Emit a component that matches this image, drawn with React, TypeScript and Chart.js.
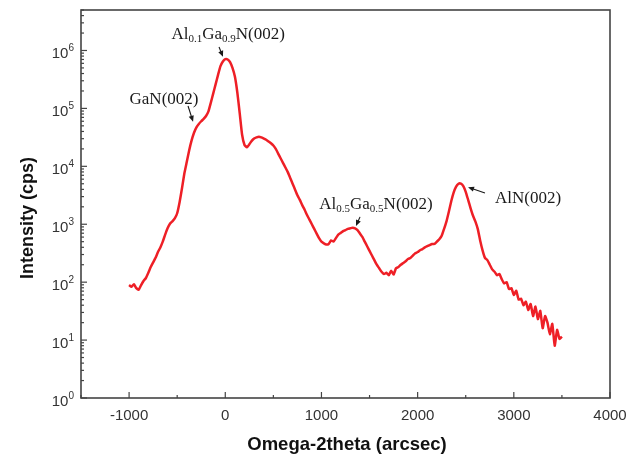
import React, { useEffect, useRef } from 'react';
import { Chart, registerables } from 'chart.js';

Chart.register(...registerables);

// Omega-2theta (arcsec)
const omega2theta = [
  -1000, -975, -950, -925, -900, -875, -850, -825, -800, -775, -750, -725, -700, -675, -650, -625, -600, -575, -550, -525,
  -500, -475, -450, -425, -400, -375, -350, -325, -300, -275, -250, -225, -200, -175, -150, -125, -100, -75, -50, -25,
  0, 25, 50, 75, 100, 125, 150, 175, 200, 225, 250, 275, 300, 325, 350, 375, 400, 425, 450, 475,
  500, 525, 550, 575, 600, 625, 650, 675, 700, 725, 750, 775, 800, 825, 850, 875, 900, 925, 950, 975,
  1000, 1025, 1050, 1075, 1100, 1125, 1150, 1175, 1200, 1225, 1250, 1275, 1300, 1325, 1350, 1375, 1400, 1425, 1450, 1475,
  1500, 1525, 1550, 1575, 1600, 1625, 1650, 1675, 1700, 1725, 1750, 1775, 1800, 1825, 1850, 1875, 1900, 1925, 1950, 1975,
  2000, 2025, 2050, 2075, 2100, 2125, 2150, 2175, 2200, 2225, 2250, 2275, 2300, 2325, 2350, 2375, 2400, 2425, 2450, 2475,
  2500, 2525, 2550, 2575, 2600, 2625, 2650, 2675, 2700, 2725, 2750, 2775, 2800, 2825, 2850, 2875, 2900, 2925, 2950, 2975,
  3000, 3025, 3050, 3075, 3100, 3125, 3150, 3175, 3200, 3225, 3250, 3275, 3300, 3325, 3350, 3375, 3400, 3425, 3450, 3475,
  3500,
];

// Intensity (cps)
const intensity = [
  89, 83, 92, 79, 74, 89, 105, 118, 145, 182, 219, 263, 331, 398, 501, 661, 851, 1023, 1122, 1259,
  1549, 2399, 4169, 7586, 12000, 19000, 28000, 38000, 47000, 54000, 60000, 66000, 74000, 89000, 126000, 182000, 263000, 380000, 537000, 646000,
  708000, 700000, 631000, 501000, 355000, 190000, 83000, 35000, 23400, 21400, 24000, 27500, 30200, 31600, 32400, 31600, 30200, 28800, 26900, 25100,
  22900, 20000, 16600, 13800, 11500, 9550, 7940, 6310, 5010, 3980, 3160, 2630, 2140, 1780, 1445, 1200, 1000, 830, 690, 575,
  500, 468, 447, 457, 525, 501, 575, 661, 708, 759, 794, 832, 851, 871, 851, 794, 692, 603, 501, 417,
  347, 288, 240, 200, 174, 151, 138, 145, 132, 158, 135, 174, 182, 200, 214, 229, 251, 262, 288, 316,
  331, 355, 372, 398, 417, 437, 457, 457, 501, 550, 631, 832, 1122, 1660, 2512, 3548, 4467, 5012, 5012, 4571,
  3631, 2630, 1905, 1413, 1122, 832, 525, 355, 263, 240, 200, 166, 151, 132, 138, 112, 95, 100, 76, 79,
  60, 71, 50, 52, 40, 46, 33, 42, 26, 38, 23, 32, 16, 26, 20, 12.6, 19, 8, 15, 10.5,
  11.5,
];

const xMajorTicks = [-1000, 0, 1000, 2000, 3000, 4000];
const xMinorTicks = [-1500, -500, 500, 1500, 2500, 3500];
const yDecadeExponents = [0, 1, 2, 3, 4, 5, 6];
const yMinorMultipliers = [2, 3, 4, 5, 6, 7, 8, 9];

const xTitle = 'Omega-2theta (arcsec)';
const yTitle = 'Intensity (cps)';

type Part = [string, boolean];
const peakLabels: { parts: Part[]; tx: number; ty: number; from: [number, number]; to: [number, number] }[] = [
  { parts: [['Al', false], ['0.1', true], ['Ga', false], ['0.9', true], ['N(002)', false]], tx: 30, ty: 2.0e6, from: [-65, 1.15e6], to: [-24, 7.8e5] },
  { parts: [['GaN(002)', false]], tx: -637, ty: 1.5e5, from: [-387, 1.1e5], to: [-335, 5.9e4] },
  { parts: [['Al', false], ['0.5', true], ['Ga', false], ['0.5', true], ['N(002)', false]], tx: 1567, ty: 2340, from: [1401, 1340], to: [1359, 930] },
  { parts: [['AlN(002)', false]], tx: 3148, ty: 2950, from: [2700, 3470], to: [2524, 4370] },
];

const SANS = '"Liberation Sans", Arial, sans-serif';
const SERIF = '"Liberation Serif", "Times New Roman", serif';

const decorPlugin = {
  id: 'decor',
  afterDraw(chart: any) {
    const { ctx, chartArea: a } = chart;
    const x = chart.scales.x;
    const y = chart.scales.y;
    ctx.save();

    // ticks (inward)
    ctx.strokeStyle = '#444';
    ctx.lineWidth = 1.2;
    const seg = (x1: number, y1: number, x2: number, y2: number) => {
      ctx.beginPath();
      ctx.moveTo(x1, y1);
      ctx.lineTo(x2, y2);
      ctx.stroke();
    };
    for (const v of xMajorTicks) {
      const px = x.getPixelForValue(v);
      seg(px, a.bottom, px, a.bottom - 6);
    }
    for (const v of xMinorTicks) {
      const px = x.getPixelForValue(v);
      seg(px, a.bottom, px, a.bottom - 3);
    }
    for (const e of yDecadeExponents) {
      const base = Math.pow(10, e);
      const py = y.getPixelForValue(base);
      seg(a.left, py, a.left + 6, py);
      for (const k of yMinorMultipliers) {
        const v = k * base;
        if (v > y.max) break;
        const pm = y.getPixelForValue(v);
        seg(a.left, pm, a.left + 3, pm);
      }
    }

    // frame
    ctx.strokeStyle = '#444';
    ctx.lineWidth = 1.6;
    ctx.strokeRect(a.left, a.top, a.right - a.left, a.bottom - a.top);

    // y tick labels 10^n
    ctx.fillStyle = '#333';
    ctx.textBaseline = 'alphabetic';
    for (const e of yDecadeExponents) {
      const py = y.getPixelForValue(Math.pow(10, e));
      ctx.font = `10px ${SANS}`;
      const sup = String(e);
      const sw = ctx.measureText(sup).width;
      ctx.font = `15px ${SANS}`;
      const tw = ctx.measureText('10').width;
      const right = a.left - 7;
      ctx.textAlign = 'left';
      ctx.fillText('10', right - sw - tw, py + 7.5);
      ctx.font = `10px ${SANS}`;
      ctx.fillText(sup, right - sw, py + 0.5);
    }

    // axis titles
    ctx.fillStyle = '#111';
    ctx.font = `bold 18.5px ${SANS}`;
    ctx.textAlign = 'center';
    ctx.textBaseline = 'middle';
    ctx.fillText(xTitle, 347, 445);
    ctx.font = `bold 18px ${SANS}`;
    ctx.save();
    ctx.translate(28, 218);
    ctx.rotate(-Math.PI / 2);
    ctx.fillText(yTitle, 0, 0);
    ctx.restore();

    // peak labels and arrows
    for (const lab of peakLabels) {
      const cx = x.getPixelForValue(lab.tx);
      const cy = y.getPixelForValue(lab.ty);
      let total = 0;
      const widths: number[] = [];
      for (const [t, sub] of lab.parts) {
        ctx.font = sub ? `11px ${SERIF}` : `17px ${SERIF}`;
        const w = ctx.measureText(t).width;
        widths.push(w);
        total += w;
      }
      let px = cx - total / 2;
      ctx.fillStyle = '#1a1a1a';
      ctx.textAlign = 'left';
      ctx.textBaseline = 'alphabetic';
      lab.parts.forEach(([t, sub], i) => {
        ctx.font = sub ? `11px ${SERIF}` : `17px ${SERIF}`;
        ctx.fillText(t, px, cy + (sub ? 9 : 6));
        px += widths[i];
      });

      const fx = x.getPixelForValue(lab.from[0]);
      const fy = y.getPixelForValue(lab.from[1]);
      const tx = x.getPixelForValue(lab.to[0]);
      const ty = y.getPixelForValue(lab.to[1]);
      const ang = Math.atan2(ty - fy, tx - fx);
      const hl = 6;
      const hw = 2.6;
      ctx.strokeStyle = '#1a1a1a';
      ctx.lineWidth = 1.1;
      ctx.beginPath();
      ctx.moveTo(fx, fy);
      ctx.lineTo(tx - Math.cos(ang) * hl * 0.8, ty - Math.sin(ang) * hl * 0.8);
      ctx.stroke();
      ctx.fillStyle = '#1a1a1a';
      ctx.beginPath();
      ctx.moveTo(tx, ty);
      ctx.lineTo(tx - Math.cos(ang) * hl - Math.sin(ang) * hw, ty - Math.sin(ang) * hl + Math.cos(ang) * hw);
      ctx.lineTo(tx - Math.cos(ang) * hl + Math.sin(ang) * hw, ty - Math.sin(ang) * hl - Math.cos(ang) * hw);
      ctx.closePath();
      ctx.fill();
    }

    ctx.restore();
  },
};

export default function App() {
  const ref = useRef<HTMLCanvasElement | null>(null);

  useEffect(() => {
    document.body.style.margin = '0';
    const canvas = ref.current;
    if (!canvas) return;
    const points = omega2theta.map((v, i) => ({ x: v, y: intensity[i] }));
    const chart = new Chart(canvas, {
      type: 'line',
      data: {
        datasets: [
          {
            data: points,
            borderColor: '#ee1f26',
            borderWidth: 2.5,
            pointRadius: 0,
            tension: 0.15,
            fill: false,
          },
        ],
      },
      options: {
        animation: false,
        responsive: false,
        maintainAspectRatio: false,
        devicePixelRatio: 1,
        layout: { padding: { top: 10, right: 18, left: 0, bottom: 0 } },
        plugins: { legend: { display: false }, tooltip: { enabled: false }, title: { display: false } },
        scales: {
          x: {
            type: 'linear',
            min: -1500,
            max: 4000,
            grid: { display: false, drawTicks: false },
            border: { display: false },
            afterBuildTicks: (s: any) => {
              s.ticks = xMajorTicks.map((v) => ({ value: v }));
            },
            afterFit: (s: any) => {
              s.height = 63;
              s.paddingLeft = 0;
              s.paddingRight = 0;
            },
            ticks: {
              padding: 9,
              autoSkip: false,
              maxRotation: 0,
              color: '#333',
              font: { family: SANS, size: 15 },
              callback: (v: any) => String(v),
            },
          },
          y: {
            type: 'logarithmic',
            min: 1,
            max: 5e6,
            grid: { display: false, drawTicks: false },
            border: { display: false },
            ticks: { display: false },
            afterFit: (s: any) => {
              s.width = 81;
              s.paddingTop = 0;
              s.paddingBottom = 0;
            },
          },
        },
      },
      plugins: [decorPlugin],
    } as any);
    return () => chart.destroy();
  }, []);

  return (
    <div style={{ width: 628, height: 461, background: '#fff' }}>
      <canvas ref={ref} width={628} height={461} style={{ display: 'block' }} />
    </div>
  );
}
